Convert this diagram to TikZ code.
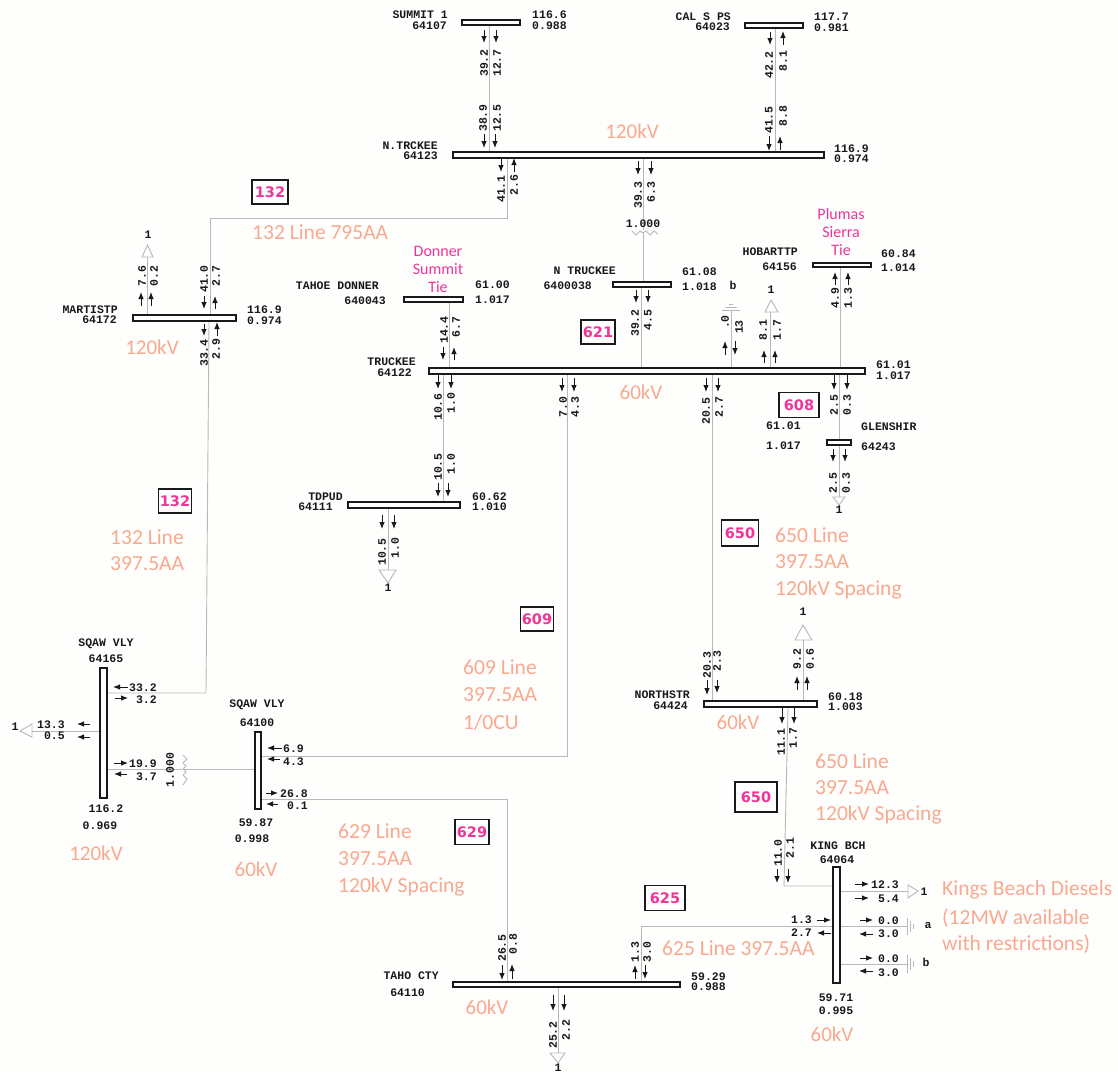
\documentclass[tikz,border=0pt]{standalone}
\usepackage{fontspec}
\usetikzlibrary{fit,arrows.meta}
\setmainfont{Carlito}
\newfontfamily\monof{Liberation Mono}
\newfontfamily\tagf{DejaVu Sans}
\definecolor{paper}{HTML}{FEFEFC}
\definecolor{orangetxt}{HTML}{F9A98F}
\definecolor{pinktxt}{HTML}{F0359A}
\definecolor{linegrey}{HTML}{B8B8B8}
\pgfdeclarelayer{backlayer}
\pgfsetlayers{backlayer,main}
\tikzset{
  bus/.style={draw=black!90,fill=white,line width=1.2pt,inner sep=0pt},
  ln/.style={draw=linegrey,line width=0.9pt},
  flow/.style={draw=black!90,line width=0.9pt,-{Latex[length=7pt,width=5.5pt]}},
  mono/.style={font=\monof\bfseries\fontsize{11.5}{12}\selectfont,text=black!90,inner sep=0pt},
  volt/.style={font=\fontsize{21}{24}\selectfont,text=orangetxt,inner sep=0pt},
  note/.style={font=\fontsize{21.5}{24}\selectfont,text=orangetxt,inner sep=0pt,anchor=west},
  tie/.style={font=\fontsize{16}{18}\selectfont,text=pinktxt,inner sep=0pt,align=center},
  tag/.style={draw=black!90,line width=1.3pt,font=\tagf\bfseries\fontsize{14.5}{18}\selectfont,text=pinktxt,inner sep=0pt},
}
\newcommand{\busbar}[5]{\node[bus,fit={(#2,#3)(#4,#5)}] (#1) {};}
\newcommand{\tagbox}[5]{\node[tag,minimum width=#3 pt,minimum height=#4 pt] (tag#5) at (#1,#2) {#5};}
\begin{document}
\begin{tikzpicture}[x=1pt,y=-1pt]
\useasboundingbox (0,0) rectangle (1118,1072);
\begin{pgfonlayer}{backlayer}
\fill[paper] (0,0) rectangle (1118,1072);
\end{pgfonlayer}

\coordinate (cNT) at (643,232);
\coordinate (tSq) at (184,769);
\coordinate (j132) at (507,218);
\coordinate (k132) at (210,218);
\coordinate (j609) at (567,756);
\coordinate (j629a) at (507,799);
\coordinate (j625) at (641,926);
\coordinate (jKing) at (784,886);

% bus bars
\busbar{summit}{462}{20}{520}{25}
\busbar{cals}{745}{23}{803}{28}
\busbar{ntrk}{453}{152}{824}{158}
\busbar{hart}{133}{315}{236}{321}
\busbar{tahoe}{404}{297}{463}{302}
\busbar{ntruck}{613}{282}{671}{287}
\busbar{hobart}{813}{263}{871}{267}
\busbar{truck}{429}{368}{865}{374}
\busbar{glen}{827}{440}{851}{445}
\busbar{tdpud}{348}{502}{460}{508}
\busbar{sqA}{100}{668}{107}{798}
\busbar{sqB}{255}{732}{261}{809}
\busbar{north}{704}{701}{817}{707}
\busbar{king}{833}{867}{840}{983}
\busbar{taho}{453}{982}{680}{987}

\begin{pgfonlayer}{backlayer}
\draw[ln] (489,0 |- summit.south) -- (489,0 |- ntrk.north);
\draw[ln] (775,0 |- cals.south) -- (775,0 |- ntrk.north);
\draw[ln] (507,0 |- ntrk.south) -- (j132) -- (k132) -- (210,0 |- hart.north);
\draw[ln] (209,0 |- hart.south) -- (206,693) -- (sqA.east |- 0,693);
\draw[ln] (643,0 |- ntrk.south) -- (643,230);
\draw[ln] (632,231) -- ++(4,4) -- ++(4,-4) -- ++(3,2) -- ++(3,-2) -- ++(4,4) -- ++(4,-4) -- ++(4,3);
\draw[ln] (643,233) -- (643,0 |- ntruck.north);
\draw[ln] (641,0 |- ntruck.south) -- (641,0 |- truck.north);
\draw[ln] (449,0 |- tahoe.south) -- (449,0 |- truck.north);
\draw[ln] (443,0 |- truck.south) -- (443,0 |- tdpud.north);
\draw[ln] (567,0 |- truck.south) -- (j609) -- (sqB.east |- j609);
\draw[ln] (712,0 |- truck.south) -- (712,0 |- north.north);
\draw[ln] (840,0 |- hobart.south) -- (840,0 |- truck.north);
\draw[ln] (839,0 |- truck.south) -- (839,0 |- glen.north);
\draw[ln] (788,0 |- north.south) -- (jKing) -- (king.west |- jKing);
\draw[ln] (sqA.east |- tSq) -- (182,769);
\draw[ln] (183,755) -- ++(4,4) -- ++(-4,4) -- ++(3,3) -- ++(-3,3) -- ++(3,3) -- ++(-3,3) -- ++(4,4) -- ++(-4,6);
\draw[ln] (184,769) -- (sqB.west |- tSq);
\draw[ln] (sqB.east |- j629a) -- (j629a) -- (507,0 |- taho.north);
\draw[ln] (king.west |- j625) -- (j625) -- (641,0 |- taho.north);
% loads
\draw[ln] (147,0 |- hart.north) -- (147,257);
\draw[ln] (142,257) -- (147.5,245) -- (153,257) -- cycle;
\draw[ln] (388,0 |- tdpud.south) -- (388,570);
\draw[ln] (379,570) -- (388,583) -- (396,570) -- cycle;
\draw[ln] (770,0 |- truck.north) -- (770,312);
\draw[ln] (765,312) -- (771,300) -- (778,312) -- cycle;
\draw[ln] (839,0 |- glen.south) -- (839,497);
\draw[ln] (833,497) -- (839,505) -- (845,497) -- cycle;
\draw[ln] (803,0 |- north.north) -- (803,640);
\draw[ln] (795,640) -- (803,625) -- (812,640) -- cycle;
\draw[ln] (king.east |- 0,891) -- (908,891);
\draw[ln] (908,885) -- (918,891) -- (908,898) -- cycle;
\draw[ln] (558,0 |- taho.south) -- (558,1053);
\draw[ln] (550,1053) -- (558,1063) -- (565,1053) -- cycle;
\draw[ln] (sqA.west |- 0,731) -- (32,731);
\draw[ln] (32,724) -- (20,731) -- (32,737) -- cycle;
% shunts
\draw[ln] (731,0 |- truck.north) -- (731,310);
\draw[ln] (722,310) -- (740,310) (725,307) -- (737,307) (729,304) -- (733,304);
\draw[ln] (king.east |- j625) -- (907,926);
\draw[ln] (907,918) -- (907,935) (910,921) -- (910,932) (913,924) -- (913,929);
\draw[ln] (king.east |- 0,964) -- (907,964);
\draw[ln] (907,955) -- (907,973) (910,958) -- (910,970) (913,961) -- (913,967);
\end{pgfonlayer}

% flow arrows
\foreach \a/\b/\c/\d in {
 484/30/484/43, 496/30/496/43, 484/134/484/148, 495/134/495/148,
 770/32/770/45, 783/45/783/31, 769/136/769/151, 780/150/780/136,
 501/158/501/172, 514/172/514/158, 638/161/638/175, 651/161/651/175,
 141/306/141/292, 151/306/151/292, 204/296/204/309, 215/309/215/296,
 204/324/204/336, 217/336/217/322, 443/347/443/360, 454/360/454/347,
 438/375/438/389, 451/375/451/389, 438/483/438/497, 448/483/448/497,
 382/515/382/529, 394/515/394/529, 562/378/562/392, 574/378/574/392,
 706/378/706/392, 718/378/718/392, 636/290/636/303, 648/290/648/303,
 725/355/725/341, 735/341/735/355, 764/363/764/350, 775/363/775/350,
 835/285/835/272, 848/285/848/272, 834/375/834/390, 847/375/847/390,
 833/449/833/462, 845/449/845/462,
 707/680/707/695, 717/680/717/693, 797/690/797/676, 807/690/807/676,
 782/708/782/724, 794/708/794/724, 777/869/777/883, 788/869/788/883,
 502/965/502/980, 512/979/512/964, 635/979/635/965, 645/965/645/979,
 553/995/553/1011, 564/995/564/1011,
 128/687/113/687, 115/698/128/698, 90/724/77/724, 90/737/77/737,
 114/763/128/763, 127/774/114/774, 282/748/267/748, 280/759/267/759,
 266/793/278/793, 278/804/266/804,
 855/884/869/884, 855/898/869/898, 817/920/831/920, 831/933/817/933,
 860/920/873/920, 873/934/859/934, 860/958/873/958, 873/971/859/971}
  \draw[flow] (\a,\b) -- (\c,\d);

% rotated numbers
\foreach \x/\y/\t in {
 484/63/39.2, 497/63/12.7, 483/118/38.9, 497/118/12.5,
 769/65/42.2, 783/61/8.1, 769/120/41.5, 783/116/8.8,
 501/189/41.1, 514/185/2.6, 638/195/39.3, 651/192/6.3,
 142/276/7.6, 154/276/0.2, 204/279/41.0, 216/276/2.7,
 204/353/33.4, 216/349/2.9, 444/330/14.4, 456/327/6.7,
 438/407/10.6, 451/403/1.0, 438/467/10.5, 451/464/1.0,
 382/552/10.5, 395/548/1.0, 563/407/7.0, 575/407/4.3,
 706/411/20.5, 719/407/2.7, 635/323/39.2, 648/320/4.5,
 725/322/.0, 739/327/13, 763/330/8.1, 777/330/1.7,
 835/298/4.9, 848/298/1.3, 834/405/2.5, 847/405/0.3,
 833/483/2.5, 846/483/0.3,
 707/665/20.3, 717/661/2.3, 797/659/9.2, 810/659/0.6,
 781/742/11.1, 793/738/1.7, 778/853/11.0, 790/848/2.1,
 502/948/26.5, 513/944/0.8, 635/952/1.3, 647/952/3.0,
 553/1035/25.2, 566/1030/2.2, 170/770/1.000}
  \node[mono,rotate=90] (r\x-\y) at (\x,\y) {\t};

% right-aligned texts
\foreach \x/\y/\t in {
 448/15/SUMMIT 1, 447/26/64107, 731/17/CAL S PS, 730/27/64023,
 438/146/N.TRCKEE, 438/156/64123, 118/310/MARTISTP, 117/320/64172,
 379/286/TAHOE DONNER, 386/301/640043, 416/362/TRUCKEE, 412/373/64122,
 616/271/N TRUCKEE, 592/286/6400038, 798/252/HOBARTTP, 797/267/64156,
 343/497/TDPUD, 333/507/64111, 690/695/NORTHSTR, 688/706/64424,
 439/976/TAHO CTY, 425/993/64110,
 65/725/13.3, 65/736/0.5, 157/688/33.2, 157/700/3.2, 157/764/19.9, 157/777/3.7,
 304/749/6.9, 304/762/4.3, 308/794/26.8, 308/806/0.1,
 899/885/12.3, 899/899/5.4, 812/920/1.3, 812/933/2.7,
 899/921/0.0, 899/934/3.0, 899/959/0.0, 899/973/3.0}
  \node[mono,anchor=east] (e\x-\y) at (\x,\y) {\t};

% left-aligned texts
\foreach \x/\y/\t in {
 532/15/116.6, 532/26/0.988, 814/17/117.7, 814/28/0.981,
 834/149/116.9, 834/159/0.974, 247/310/116.9, 247/321/0.974,
 475/285/61.00, 475/300/1.017, 876/365/61.01, 876/376/1.017,
 682/272/61.08, 682/287/1.018, 881/254/60.84, 881/268/1.014,
 861/427/GLENSHIR, 861/447/64243, 766/426/61.01, 766/446/1.017,
 472/497/60.62, 472/507/1.010, 828/697/60.18, 828/707/1.003,
 691/977/59.29, 691/987/0.988}
  \node[mono,anchor=west] (w\x-\y) at (\x,\y) {\t};

% centred texts
\foreach \x/\y/\t in {
 106/644/SQAW VLY, 106/659/64165, 106/809/116.2, 100/826/0.969,
 257/705/SQAW VLY, 257/723/64100, 256/823/59.87, 252/839/0.998,
 838/846/KING BCH, 837/860/64064, 836/998/59.71, 836/1011/0.995,
 643/224/1.000, 733/285/b, 148/235/1, 771/290/1, 388/588/1, 803/612/1,
 924/892/1, 558/1068/1, 15/727/1, 839/510/1, 928/925/a, 926/962/b}
  \node[mono] (c\x-\y) at (\x,\y) {\t};

% voltage and line notes
\foreach \x/\y/\t in {
 632/131/120kV, 152/347/120kV, 641/392/60kV, 738/722/60kV, 96/853/120kV,
 256/869/60kV, 487/1007/60kV, 832/1034/60kV}
  \node[volt] (v\x-\y) at (\x,\y) {\t};
\foreach \x/\y/\t in {
 252/232/132 Line 795AA, 110/537/132 Line, 110/564/397.5AA,
 775/535/650 Line, 775/562/397.5AA, 775/590/120kV Spacing,
 463/667/609 Line, 463/695/397.5AA, 463/722/{1/0CU},
 815/761/650 Line, 815/788/397.5AA, 815/815/120kV Spacing,
 338/831/629 Line, 338/859/397.5AA, 338/887/120kV Spacing,
 662/948/625 Line 397.5AA, 942/890/Kings Beach Diesels,
 942/918/(12MW available, 942/944/with restrictions)}
  \node[note] (n\x-\y) at (\x,\y) {\t};

\node[tie] (donner) at (438,269) {Donner\\Summit\\Tie};
\node[tie] (plumas) at (841,232) {Plumas\\Sierra\\Tie};

\tagbox{270}{192}{36}{24}{132}
\node[tag,minimum width=33pt,minimum height=24pt] (tag132b) at (175,501) {132};
\tagbox{598}{332}{34}{24}{621}
\tagbox{799}{405}{40}{25}{608}
\node[tag,minimum width=37pt,minimum height=26pt] (tag650a) at (740,533) {650};
\tagbox{537}{619}{33}{24}{609}
\node[tag,minimum width=42pt,minimum height=30pt] (tag650b) at (756,797) {650};
\tagbox{472}{832}{34}{25}{629}
\tagbox{665}{898}{40}{25}{625}
\end{tikzpicture}
\end{document}
